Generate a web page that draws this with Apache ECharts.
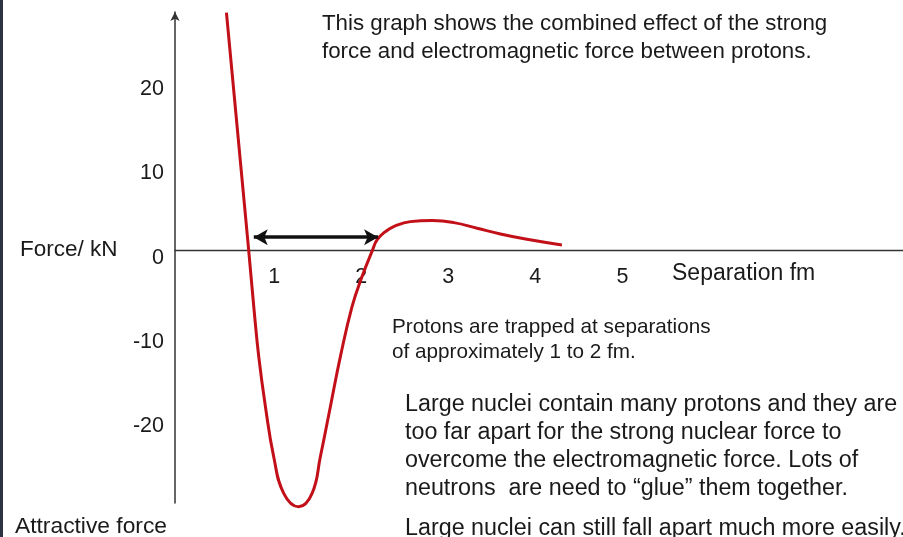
<!DOCTYPE html>
<html>
<head>
<meta charset="utf-8">
<script src="https://cdn.jsdelivr.net/npm/echarts@6/dist/echarts.min.js"></script>
<style>
  html, body { margin: 0; padding: 0; background: #fff; }
  #chart { width: 903px; height: 537px; }
</style>
</head>
<body>
<div id="chart"></div>
<script>
// separation (fm) and force (kN)
const separation = [0.451, 0.707, 0.765, 0.822, 0.899, 0.994, 1.109, 1.281, 1.435, 1.530, 1.645, 1.760, 1.894, 2.009, 2.127, 2.181, 2.277, 2.372, 2.564, 2.816, 3.064, 3.330, 3.599, 3.903, 4.305];
const force = [28.23, 0, -6.64, -12.57, -18.51, -24.44, -28.78, -30.37, -28.78, -24.44, -18.51, -12.57, -6.64, -3.08, 0, 1.27, 2.25, 2.85, 3.44, 3.56, 3.32, 2.66, 1.98, 1.35, 0.68];
const xTicks = [1, 2, 3, 4, 5];
const yTicks = [-20, -10, 0, 10, 20];
// double arrow marking the 1 to 2 fm trap
const trapRange = [0.765, 2.193];
const trapForce = 1.59;

const font = "'Liberation Sans', Arial, sans-serif";
const ink = '#1a1a1a';

const chart = echarts.init(document.getElementById('chart'));
chart.setOption({
    backgroundColor: '#fff',
    animation: false,
    grid: {
        left: 175,
        right: 0,
        top: 12,
        bottom: 34
    },
    xAxis: {
        type: 'value',
        min: -0.14,
        max: 8.224,
        position: 'bottom',
        offset: -252.3,
        axisLine: {
            onZero: false,
            lineStyle: { color: '#333', width: 1.3 }
        },
        axisTick: { show: false },
        splitLine: { show: false },
        axisLabel: {
            customValues: xTicks,
            margin: 15,
            fontSize: 21.5,
            fontFamily: font,
            color: ink
        }
    },
    yAxis: {
        type: 'value',
        min: -29.93,
        max: 28.3,
        axisLine: {
            show: true,
            onZero: false,
            symbol: ['none', 'arrow'],
            symbolSize: [7, 9],
            lineStyle: { color: '#333', width: 1.5 }
        },
        axisTick: { show: false },
        splitLine: { show: false },
        axisLabel: {
            customValues: yTicks,
            margin: 11,
            verticalAlign: 'top',
            lineHeight: 14,
            fontSize: 21.5,
            fontFamily: font,
            color: ink
        }
    },
    series: [{
        type: 'line',
        data: separation.map((x, i) => [x, force[i]]),
        smooth: 0.45,
        showSymbol: false,
        clip: false,
        silent: true,
        lineStyle: { color: '#c20f18', width: 3 },
        markLine: {
            silent: true,
            symbol: ['arrow', 'arrow'],
            symbolSize: [12, 14],
            label: { show: false },
            lineStyle: { color: '#111', width: 3.5, type: 'solid' },
            data: [[
                { coord: [trapRange[0], trapForce] },
                { coord: [trapRange[1], trapForce] }
            ]]
        }
    }],
    graphic: [
        { type: 'rect', left: 0, top: 0, shape: { width: 3, height: 537 }, style: { fill: '#2e3343' } },
        { type: 'text', left: 322, top: 10, style: { text: 'This graph shows the combined effect of the strong\nforce and electromagnetic force between protons.', font: '22.3px ' + font, lineHeight: 28, fill: ink } },
        { type: 'text', left: 20, top: 237, style: { text: 'Force/ kN', font: '22.5px ' + font, lineHeight: 26, fill: ink } },
        { type: 'text', left: 672, top: 260, style: { text: 'Separation fm', font: '23px ' + font, lineHeight: 28, fill: ink } },
        { type: 'text', left: 392, top: 315, style: { text: 'Protons are trapped at separations\nof approximately 1 to 2 fm.', font: '20.7px ' + font, lineHeight: 25, fill: ink } },
        { type: 'text', left: 405, top: 391, style: { text: 'Large nuclei contain many protons and they are\ntoo far apart for the strong nuclear force to\novercome the electromagnetic force. Lots of\nneutrons  are need to \u201cglue\u201d them together.', font: '23.3px ' + font, lineHeight: 28, fill: ink } },
        { type: 'text', left: 405, top: 515, style: { text: 'Large nuclei can still fall apart much more easily.', font: '23.3px ' + font, lineHeight: 28, fill: ink } },
        { type: 'text', left: 15, top: 514, style: { text: 'Attractive force', font: '22.8px ' + font, lineHeight: 26, fill: ink } }
    ]
});

window.addEventListener('resize', function() {
    chart.resize();
});
</script>
</body>
</html>
